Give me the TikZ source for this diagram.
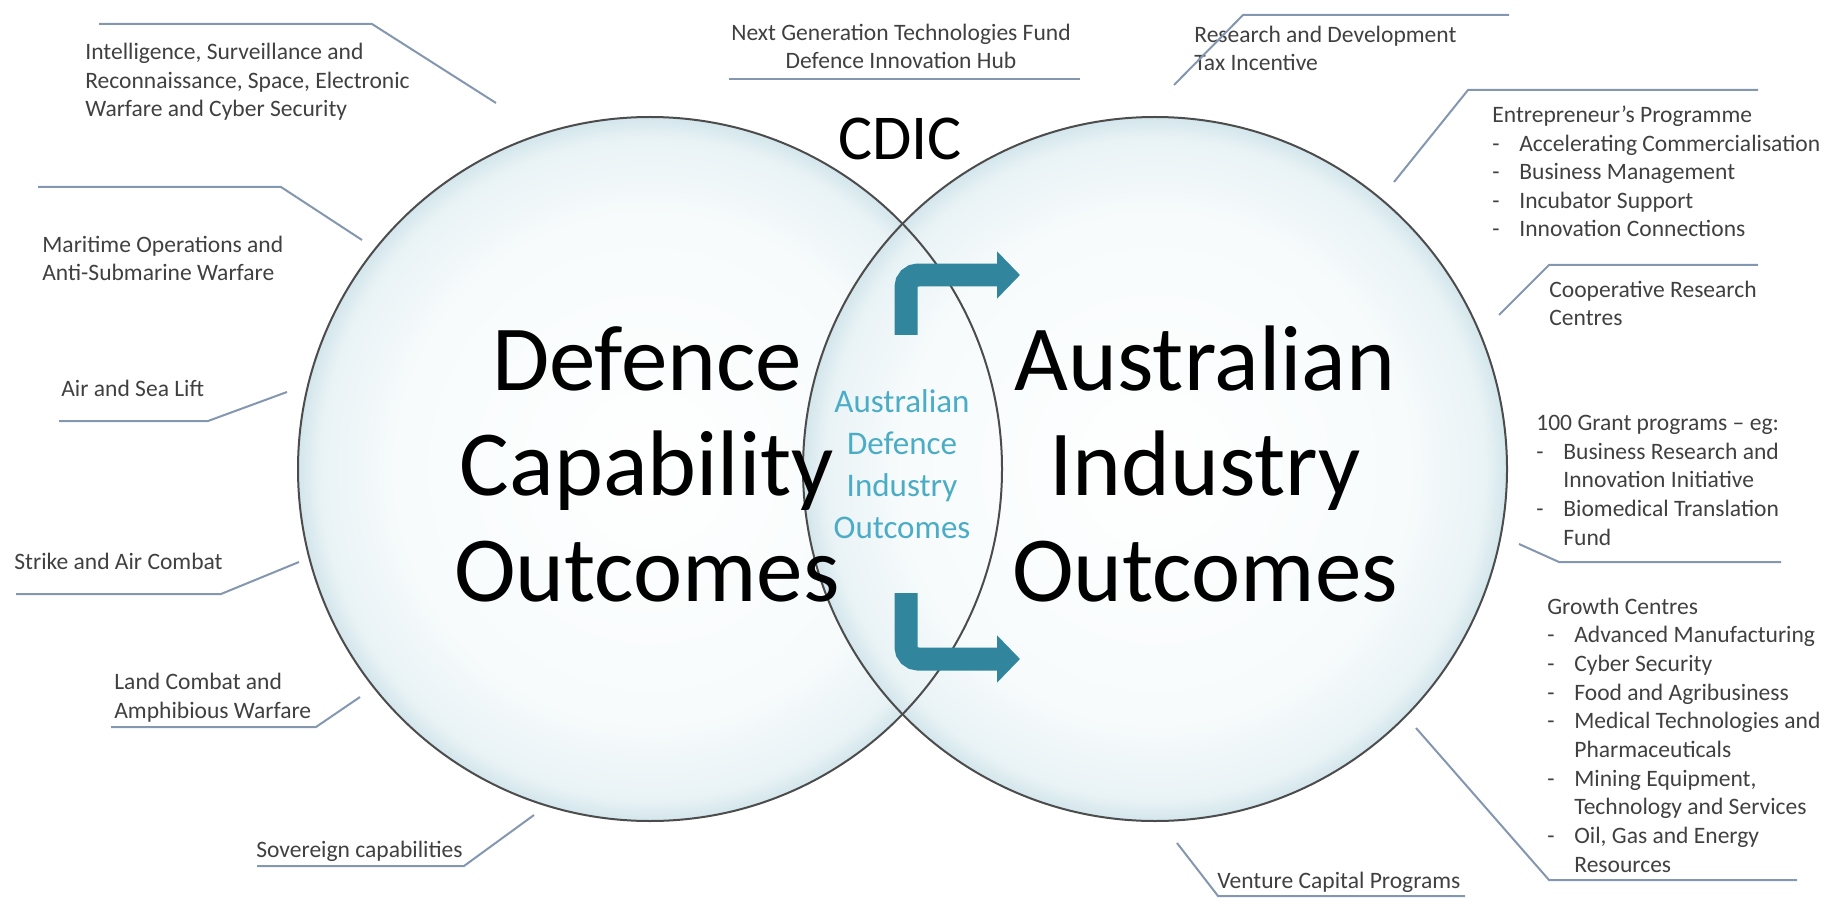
\documentclass[tikz,border=0pt]{standalone}
\usepackage{fontspec}
\setmainfont{Carlito}
\usetikzlibrary{arrows.meta}
\definecolor{labelgray}{HTML}{404040}
\definecolor{leadercol}{HTML}{8497B0}
\definecolor{arrowteal}{HTML}{31859C}
\definecolor{lensteal}{HTML}{4BACC6}
\definecolor{rimblue}{HTML}{D3E6EC}
\definecolor{innerblue}{HTML}{F7FBFC}
\colorlet{rimmid}{rimblue!50!white}
\pgfdeclareradialshading{glass}{\pgfpoint{0bp}{0bp}}{color(0bp)=(white); color(18bp)=(innerblue); color(23.5bp)=(rimmid); color(25bp)=(rimblue); color(50bp)=(rimblue)}
\newcommand{\dashitem}[1]{\makebox[0.54cm][l]{-}#1}
\newcommand{\contitem}[1]{\hspace*{0.54cm}#1}

\begin{document}
\begin{tikzpicture}[x=0.02cm, y=-0.02cm,
    lbl/.style={anchor=base west, align=left, inner sep=0pt, text=labelgray, font=\fontsize{13.4}{16.3}\selectfont},
    leader/.style={draw=leadercol, line width=0.04cm},
    vennfill/.style={circle, minimum size=14.08cm, inner sep=0pt, shading=glass},
    vennline/.style={draw=black!70, line width=0.04cm},
    bigtext/.style={anchor=base, align=center, inner sep=0pt, font=\fontsize{53}{60}\selectfont},
    lenstext/.style={anchor=base, align=center, inner sep=0pt, text=lensteal, font=\fontsize{18.8}{23.9}\selectfont},
    flow/.style={draw=arrowteal, line width=0.46cm, rounded corners=0.24cm, -{Triangle[length=0.46cm, width=0.92cm]}}]
    \useasboundingbox (0,0) rectangle (1828,898);

    % the two circles (multi-line nodes sit on the baseline of their last line)
    \node[vennfill] (defc) at (650,469) {};
    \node[vennfill] (indc) at (1155,469) {};
    \draw[vennline] (defc.center) circle[radius=352];
    \draw[vennline] (indc.center) circle[radius=352];

    \node[bigtext] (deftext) at (647,601) {Defence\\Capability\\Outcomes};
    \node[bigtext] (indtext) at (1205,601) {Australian\\Industry\\Outcomes};
    \node[lenstext] (lenstxt) at (902,538) {Australian\\Defence\\Industry\\Outcomes};
    \node[anchor=base, inner sep=0pt, font=\fontsize{36.4}{40}\selectfont] (cdic) at (900,160) {CDIC};

    % flow arrows
    \coordinate (up-s) at (906,335);
    \coordinate (up-e) at (1020,275);
    \coordinate (dn-s) at (906,593);
    \coordinate (dn-e) at (1020,659);
    \draw[flow] (up-s) |- (up-e);
    \draw[flow] (dn-s) |- (dn-e);

    % defence side
    \node[lbl] (isr) at (85,117) {Intelligence, Surveillance and\\Reconnaissance, Space, Electronic\\Warfare and Cyber Security};
    \coordinate (isr-a) at (99,24);
    \coordinate (isr-b) at (372,24);
    \coordinate (isr-c) at (496,103);
    \draw[leader] (isr-a) -- (isr-b) -- (isr-c);

    \node[lbl] (mar) at (42,281) {Maritime Operations and\\Anti-Submarine Warfare};
    \coordinate (mar-a) at (38,187);
    \coordinate (mar-b) at (281,187);
    \coordinate (mar-c) at (362,240);
    \draw[leader] (mar-a) -- (mar-b) -- (mar-c);

    \node[lbl] (air) at (61,397) {Air and Sea Lift};
    \coordinate (air-a) at (59,421);
    \coordinate (air-b) at (208,421);
    \coordinate (air-c) at (287,392);
    \draw[leader] (air-a) -- (air-b) -- (air-c);

    \node[lbl] (strike) at (14,569) {Strike and Air Combat};
    \coordinate (str-a) at (16,594);
    \coordinate (str-b) at (221,594);
    \coordinate (str-c) at (299,562);
    \draw[leader] (str-a) -- (str-b) -- (str-c);

    \node[lbl] (land) at (114,718) {Land Combat and\\Amphibious Warfare};
    \coordinate (land-a) at (111,727);
    \coordinate (land-b) at (316,727);
    \coordinate (land-c) at (360,697);
    \draw[leader] (land-a) -- (land-b) -- (land-c);

    \node[lbl] (sov) at (256,857) {Sovereign capabilities};
    \coordinate (sov-a) at (257,866);
    \coordinate (sov-b) at (464,866);
    \coordinate (sov-c) at (534,815);
    \draw[leader] (sov-a) -- (sov-b) -- (sov-c);

    % top centre
    \node[lbl, anchor=base, align=center] (ngtf) at (901,69) {Next Generation Technologies Fund\\Defence Innovation Hub};
    \coordinate (ngtf-a) at (729,79);
    \coordinate (ngtf-b) at (1080,79);
    \draw[leader] (ngtf-a) -- (ngtf-b);

    % industry side
    \node[lbl] (rdti) at (1194,71) {Research and Development\\Tax Incentive};
    \coordinate (rdti-a) at (1509,15);
    \coordinate (rdti-b) at (1243,15);
    \coordinate (rdti-c) at (1174,85);
    \draw[leader] (rdti-a) -- (rdti-b) -- (rdti-c);

    \node[lbl] (entr) at (1492,237) {Entrepreneur’s Programme\\\dashitem{Accelerating Commercialisation}\\\dashitem{Business Management}\\\dashitem{Incubator Support}\\\dashitem{Innovation Connections}};
    \coordinate (entr-a) at (1758,90);
    \coordinate (entr-b) at (1468,90);
    \coordinate (entr-c) at (1394,182);
    \draw[leader] (entr-a) -- (entr-b) -- (entr-c);

    \node[lbl] (crc) at (1549,326) {Cooperative Research\\Centres};
    \coordinate (crc-a) at (1758,265);
    \coordinate (crc-b) at (1549,265);
    \coordinate (crc-c) at (1499,315);
    \draw[leader] (crc-a) -- (crc-b) -- (crc-c);

    \node[lbl] (grant) at (1536,545) {100 Grant programs – eg:\\\dashitem{Business Research and}\\\contitem{Innovation Initiative}\\\dashitem{Biomedical Translation}\\\contitem{Fund}};
    \coordinate (grant-a) at (1781,562);
    \coordinate (grant-b) at (1559,562);
    \coordinate (grant-c) at (1519,544);
    \draw[leader] (grant-a) -- (grant-b) -- (grant-c);

    \node[lbl] (growth) at (1547,872) {Growth Centres\\\dashitem{Advanced Manufacturing}\\\dashitem{Cyber Security}\\\dashitem{Food and Agribusiness}\\\dashitem{Medical Technologies and}\\\contitem{Pharmaceuticals}\\\dashitem{Mining Equipment,}\\\contitem{Technology and Services}\\\dashitem{Oil, Gas and Energy}\\\contitem{Resources}};
    \coordinate (growth-a) at (1797,880);
    \coordinate (growth-b) at (1549,880);
    \coordinate (growth-c) at (1416,728);
    \draw[leader] (growth-a) -- (growth-b) -- (growth-c);

    \node[lbl] (vc) at (1217,888) {Venture Capital Programs};
    \coordinate (vc-a) at (1465,896);
    \coordinate (vc-b) at (1218,896);
    \coordinate (vc-c) at (1177,843);
    \draw[leader] (vc-a) -- (vc-b) -- (vc-c);
\end{tikzpicture}
\end{document}
